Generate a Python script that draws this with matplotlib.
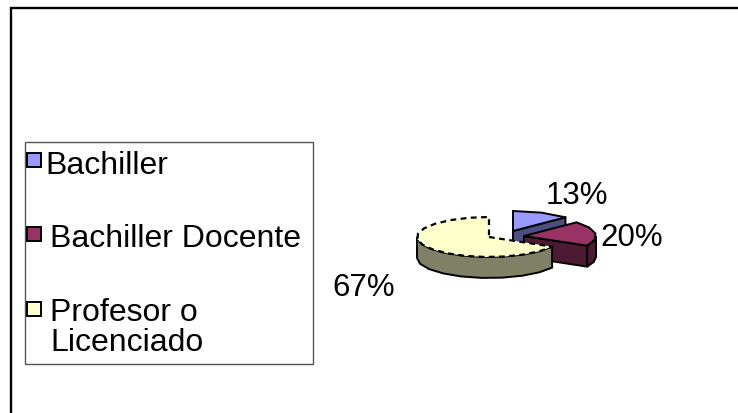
#!/usr/bin/env python
import numpy as np
import matplotlib
matplotlib.use("Agg")
import matplotlib.pyplot as plt
from matplotlib.patches import Polygon, Rectangle

plt.rcParams['font.family'] = ['Liberation Sans', 'DejaVu Sans']

labels = ['Bachiller', 'Bachiller Docente', 'Profesor o\nLicenciado']
values = [13, 20, 67]
pct_labels = ['13%', '20%', '67%']
top_colors = ['#9999FF', '#993366', '#FFFFCC']
side_colors = ['#4D4D80', '#4D1933', '#808066']

W, H = 738, 414
fig = plt.figure(figsize=(W / 100, H / 100), dpi=100)
ax = fig.add_axes([0, 0, 1, 1])
ax.set_xlim(0, W)
ax.set_ylim(H, 0)
ax.axis('off')

# chart frame, only top and left survive in the picture
ax.plot([W, 10.5, 10.5], [8.5, 8.5, H], color='black', lw=1.7, solid_joinstyle='miter', zorder=1)

# fake 3d pie, slice centres in pixels
centres = [(513, 232), (524, 237), (489, 238)]
rx, ry, depth = 72, 20, 21


def edge(cx, cy, a0, a1):
    # angles clockwise from 12 o'clock, coarse steps give the faceted look
    n = max(int((a1 - a0) / 16), 2)
    a = np.radians(np.linspace(a0, a1, n + 1))
    return np.column_stack([cx + rx * np.sin(a), cy - ry * np.cos(a)])


fracs = np.array(values) / sum(values)
ends = np.cumsum(fracs) * 360
starts = ends - fracs * 360
for i in range(3):
    cx, cy = centres[i]
    a0, a1 = starts[i], ends[i]
    arc = edge(cx, cy, a0, a1)
    zo = 3 + 2 * i
    # outer wall, only the part facing the viewer
    lo, hi = max(a0, 90), min(a1, 270)
    if hi > lo:
        wall = edge(cx, cy, lo, hi)
        low = wall + [0, depth]
        ax.add_patch(Polygon(np.vstack([wall, low[::-1]]), fc=side_colors[i], ec='black', lw=1.4, zorder=zo))
    # cut face at the end of the blue and maroon slices
    if i < 2:
        p = arc[-1]
        ax.add_patch(Polygon([(cx, cy), p, p + [0, depth], (cx, cy + depth)], fc=side_colors[i], ec='black', lw=1.4, zorder=zo))
    outline = np.vstack([[(cx, cy)], arc])
    if i == 2:
        ax.add_patch(Polygon(outline, fc=top_colors[i], ec='black', lw=1.6, ls=(0, (2.6, 2.0)), zorder=zo + 1))
    else:
        ax.add_patch(Polygon(outline, fc=top_colors[i], ec='black', lw=1.4, zorder=zo + 1))

# percent labels
pct_pos = [(577, 196), (632, 238), (364, 288)]
for t, (x, y) in zip(pct_labels, pct_pos):
    ax.text(x, y, t, fontsize=22.5, ha='center', va='center', color='black', zorder=10)

# legend box
ax.add_patch(Rectangle((25, 143), 288, 222, fc='white', ec='#555555', lw=1, zorder=2))
swatch_y = [160.5, 235, 309.5]
text_x = [45, 50, 50]
text_y = [166, 239, 328]
for i in range(3):
    ax.add_patch(Rectangle((26.5, swatch_y[i] - 7), 14.5, 14, fc=top_colors[i], ec='black', lw=1.4, zorder=3))
    ax.text(text_x[i], text_y[i], labels[i], fontsize=23, ha='left', va='center', linespacing=1.02, color='black', zorder=3)

fig.savefig('out.png', dpi=100)
plt.close()
